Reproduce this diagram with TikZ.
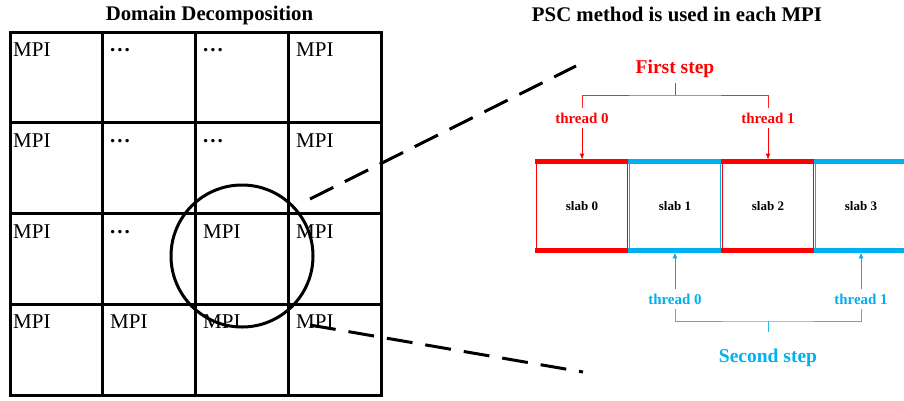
\documentclass[tikz,border=0pt]{standalone}
\usepackage{fontspec}
\setmainfont{Liberation Serif}
\usetikzlibrary{arrows.meta}
\definecolor{fsred}{RGB}{255,0,0}
\definecolor{fsblue}{RGB}{0,176,240}
\newcommand{\mpidots}{\raisebox{.22em}{\textbf{.\hspace{2pt}.\hspace{2pt}.}}}
\tikzset{every node/.style={inner sep=0pt}}
\tikzset{ttl/.style={font=\bfseries\fontsize{20.8}{25}\selectfont,anchor=base}}
\tikzset{c/.style={font=\fontsize{21}{25}\selectfont,anchor=base west}}
\tikzset{g/.style={line width=3pt}}
\tikzset{zl/.style={line width=3pt,dash pattern=on 26pt off 13pt}}
\tikzset{sl/.style={rectangle,line width=0.8pt,minimum width=91pt,minimum height=88pt,font=\bfseries\fontsize{13}{16}\selectfont}}
\tikzset{th/.style={anchor=base,inner sep=4.5pt,font=\bfseries\fontsize{15}{18}\selectfont}}
\tikzset{ph/.style={anchor=base,font=\bfseries\fontsize{19.5}{23}\selectfont}}
\tikzset{bar/.style={line width=4.5pt,shorten <=-1pt,shorten >=-1pt}}
\tikzset{ra/.style={fsred,line width=1pt,-{Latex[length=6pt,width=5pt]},shorten >=2pt}}
\tikzset{ba/.style={fsblue,line width=1pt,-{Latex[length=6pt,width=5pt]},shorten >=2pt}}
\tikzset{rl/.style={fsred!85,line width=0.9pt}}
\tikzset{bl/.style={fsblue!85,line width=0.9pt}}

\begin{document}
\begin{tikzpicture}[x=1pt,y=-1pt]
  \useasboundingbox (0,0) rectangle (904,400);
  \node[ttl] (T1) at (209.5,20) {Domain Decomposition};
  \node[ttl] (T2) at (677,21) {PSC method is used in each MPI};
  \draw[g] (10,32) rectangle (381,395);
  \draw[g] (102.75,32) -- (102.75,395);
  \draw[g] (195.5,32) -- (195.5,395);
  \draw[g] (288.25,32) -- (288.25,395);
  \draw[g] (10,122.75) -- (381,122.75);
  \draw[g] (10,213.5) -- (381,213.5);
  \draw[g] (10,304.25) -- (381,304.25);
  \node[c] (m11) at (13,56.5) {MPI};
  \node[c] (m12) at (110,56.5) {\mpidots};
  \node[c] (m13) at (203,56.5) {\mpidots};
  \node[c] (m14) at (296,56.5) {MPI};
  \node[c] (m21) at (13,147) {MPI};
  \node[c] (m22) at (110,147) {\mpidots};
  \node[c] (m23) at (203,147) {\mpidots};
  \node[c] (m24) at (296,147) {MPI};
  \node[c] (m31) at (13,238) {MPI};
  \node[c] (m32) at (110,238) {\mpidots};
  \node[c] (m33) at (203,238) {MPI};
  \node[c] (m34) at (296,238) {MPI};
  \node[c] (m41) at (13,328.5) {MPI};
  \node[c] (m42) at (110,328.5) {MPI};
  \node[c] (m43) at (203,328.5) {MPI};
  \node[c] (m44) at (296,328.5) {MPI};
  \node[circle,draw,line width=3pt,minimum size=142pt] (focus) at (242,256) {};
  \coordinate (z1) at (310,199);
  \coordinate (z2) at (576,66);
  \coordinate (z3) at (310,325);
  \coordinate (z4) at (583,372);
  \draw[zl] (z1) -- (z2);
  \draw[zl] (z3) -- (z4);
  \node[sl,draw=fsred] (s0) at (582,206) {slab 0};
  \node[sl,draw=fsblue] (s1) at (675,206) {slab 1};
  \node[sl,draw=fsred] (s2) at (768,206) {slab 2};
  \node[sl,draw=fsblue] (s3) at (861,206) {slab 3};
  \draw[bar,fsred] (s0.north west) -- (s0.north east);
  \draw[bar,fsred] (s0.south west) -- (s0.south east);
  \draw[bar,fsblue] (s1.north west) -- (s1.north east);
  \draw[bar,fsblue] (s1.south west) -- (s1.south east);
  \draw[bar,fsred] (s2.north west) -- (s2.north east);
  \draw[bar,fsred] (s2.south west) -- (s2.south east);
  \draw[bar,fsblue] (s3.north west) -- (s3.north east);
  \draw[bar,fsblue] (s3.south west) -- (s3.south east);
  \node[ph,text=fsred] (F) at (675,73) {First step};
  \node[th,text=fsred] (r0) at (582,123) {thread 0};
  \node[th,text=fsred] (r1) at (768,123) {thread 1};
  \draw[rl] (r0.north) |- (675,95) -| (r1.north);
  \draw[rl] (675,95) -- (675,83);
  \draw[ra] (r0) -- (s0);
  \draw[ra] (r1) -- (s2);
  \node[th,text=fsblue] (b0) at (675,304) {thread 0};
  \node[th,text=fsblue] (b1) at (861,304) {thread 1};
  \draw[ba] (b0) -- (s1);
  \draw[ba] (b1) -- (s3);
  \draw[bl] (b0.south) |- (768,321) -| (b1.south);
  \draw[bl] (768,321) -- (768,332);
  \node[ph,text=fsblue] (S) at (768,362) {Second step};
\end{tikzpicture}
\end{document}
